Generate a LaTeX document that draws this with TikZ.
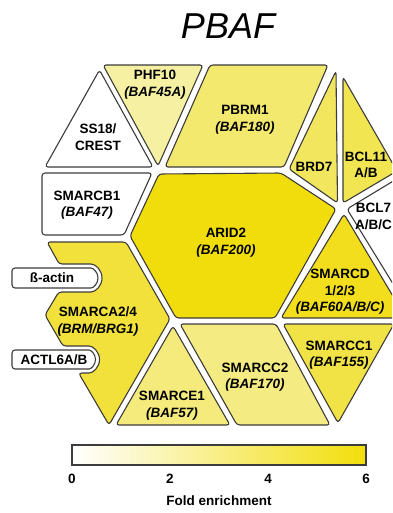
\documentclass[tikz,border=0pt]{standalone}
\usepackage{fontspec}
\setmainfont{Liberation Sans}
\usepackage{xcolor}
\usepackage{tikz}

\definecolor{edgegray}{HTML}{3C3C3C}
\definecolor{aridyel}{HTML}{F2DD0C}
\definecolor{smarcdyel}{HTML}{F2DE1C}
\definecolor{smarcayel}{HTML}{F1E13A}
\definecolor{smarcconeyel}{HTML}{F1E246}
\definecolor{bclyel}{HTML}{F2E552}
\definecolor{brdyel}{HTML}{F2E65E}
\definecolor{pbrmyel}{HTML}{F3E96E}
\definecolor{smarceyel}{HTML}{F4EB7C}
\definecolor{smarcctwoyel}{HTML}{F4EC82}
\definecolor{phfyel}{HTML}{F6F1A2}
\definecolor{barend}{HTML}{F2DE0A}

\begin{document}
\begin{tikzpicture}[x=1pt, y=-1pt,
		piece/.style={draw=edgegray, line width=1.1pt, rounded corners=3pt, line join=round},
		lbl/.style={font=\fontsize{13.5}{16.5}\selectfont\bfseries, align=center, inner sep=0pt, text=black}]
			\useasboundingbox (0,0) rectangle (392,513);
			\clip (0,0) rectangle (392,513);
			\node[font=\fontsize{36}{40}\selectfont\itshape, inner sep=0pt] (title) at (228,26) {PBAF};

			\draw [piece, fill=white] (99.5,70) -- (153,167) -- (45,167) -- cycle;
			\draw [piece, fill=phfyel] (103,65) -- (203,65) -- (158,166) -- cycle;
			\draw [piece, fill=pbrmyel] (210,65) -- (328,65) -- (284,167) -- (165,167) -- cycle;
			\draw [piece, fill=brdyel] (336,71) -- (337.5,203) -- (289,169) -- cycle;
			\draw [piece, fill=bclyel] (343,77) -- (397,171) -- (343,203) -- cycle;
			\draw [piece, fill=white] (347,209) -- (400,177) -- (440,177) -- (440,300) -- (403,300) -- cycle;
			\draw [piece, fill=white] (42,173) -- (152,173) -- (124,235) -- (42,235) -- cycle;
			\draw [piece, fill=aridyel] (159,174) -- (281,173) -- (336,209) -- (275,318) -- (176,318) -- (130,236) -- cycle;
			\draw [piece, fill=smarcdyel] (344,214) -- (406,318) -- (281,318) -- cycle;
			\draw [piece, fill=smarcconeyel] (283,324) -- (394,324) -- (338,423) -- cycle;
			\draw [piece, fill=smarcctwoyel] (180,324) -- (276,324) -- (330,425) -- (237,425) -- cycle;
			\draw [piece, fill=smarceyel] (173,326) -- (230,425) -- (116,425) -- cycle;
			\draw [piece, fill=smarcayel] (47,242) -- (126,242) -- (170,319) -- (109,425) -- (78.6,373) -- (86,373)
				arc [start angle=-90, end angle=90, radius=13.5pt] -- (63,346) -- (45,315) -- (58.7,292) -- (88,292)
				arc [start angle=-90, end angle=90, radius=14pt] -- (59.2,264) -- cycle;
			\draw [piece, fill=white] (12,268) -- (88,268) arc [start angle=90, end angle=-90, radius=10pt] -- (12,288) -- cycle;
			\draw [piece, fill=white] (12,350) -- (86,350) arc [start angle=90, end angle=-90, radius=9.5pt] -- (12,369) -- cycle;

			\node[lbl] (ss) at (98,137) {SS18/\\CREST};
			\node[lbl] (phf) at (155,84.5) {PHF10\\\textit{(BAF45A)}};
			\node[lbl] (pbrm) at (245,120) {PBRM1\\\textit{(BAF180)}};
			\node[lbl] (brd) at (314,167) {BRD7};
			\node[lbl] (bclone) at (366,165) {BCL11\\A/B};
			\node[lbl] (bclseven) at (373.5,216.5) {BCL7\\A/B/C};
			\node[lbl] (smarcb) at (87,205) {SMARCB1\\\textit{(BAF47)}};
			\node[lbl] (arid) at (226,242.5) {ARID2\\\textit{(BAF200)}};
			\node[lbl] (smarca) at (98,321.5) {SMARCA2/4\\\textit{(BRM/BRG1)}};
			\node[lbl] (smarcd) at (340,292) {SMARCD\\1/2/3\\\textit{(BAF60A/B/C)}};
			\node[lbl] (smarccone) at (339,355) {SMARCC1\\\textit{(BAF155)}};
			\node[lbl] (smarcctwo) at (255,377) {SMARCC2\\\textit{(BAF170)}};
			\node[lbl] (smarce) at (172,405.5) {SMARCE1\\\textit{(BAF57)}};
			\node[lbl] (actin) at (52,278) {ß-actin};
			\node[lbl] (actl) at (54,360) {ACTL6A/B};

			\shade [left color=white, right color=barend] (72,445) rectangle (366,465);
			\draw [draw=edgegray, line width=1.1pt] (72,445) rectangle (366,465);
			\node[lbl] (tzero) at (72,479) {0};
			\node[lbl] (ttwo) at (170,479) {2};
			\node[lbl] (tfour) at (268,479) {4};
			\node[lbl] (tsix) at (366,479) {6};
			\node[lbl] (fold) at (219,501) {Fold enrichment};
		\end{tikzpicture}
\end{document}
